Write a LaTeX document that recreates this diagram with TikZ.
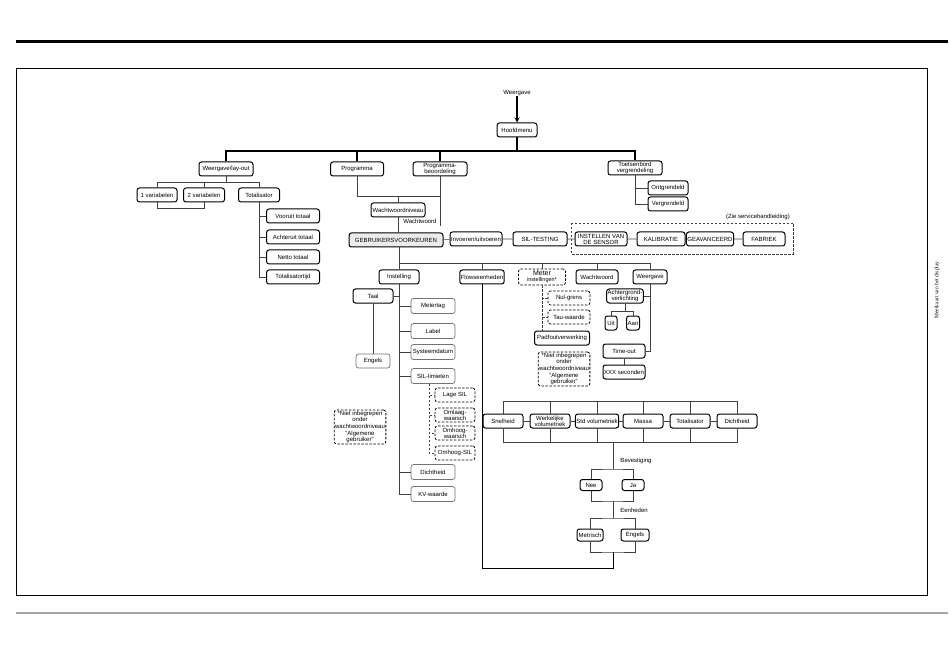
\documentclass[tikz,border=0pt]{standalone}
\usepackage{fontspec}
\setmainfont{Liberation Sans}
\newfontfamily\sideserif{Liberation Serif}
\usetikzlibrary{calc}

\begin{document}
\begin{tikzpicture}[>=stealth, x=1pt, y=-1pt,
    box/.style={draw, rounded corners=2.5pt, line width=1pt, fill=white, align=center,
        inner sep=1pt, minimum height=14pt, font=\fontsize{6}{6}\selectfont},
    dbox/.style={box, dash pattern=on 2.5pt off 1.5pt, line width=.8pt},
    lbox/.style={box, draw=black!55, line width=.7pt},
    lnk/.style={line width=.6pt, black!75},
    dlnk/.style={lnk, dash pattern=on 2.5pt off 1.5pt},
    bus/.style={line width=1.1pt},
    lbl/.style={font=\fontsize{6}{6}\selectfont, inner sep=0pt}]
\useasboundingbox (0,0) rectangle (950,660);
\draw[line width=3pt] (16,42)--(948,42);
\draw[line width=2pt, gray!70] (16,613)--(948,613);
\draw[line width=1pt] (16,69) rectangle (927,595);
\node[rotate=90, font=\sideserif\fontsize{5.5}{5.5}\selectfont] (side) at (937,290) {Meetkaart van het display};

\node[lbl] (start) at (517,93) {Weergave};
\node[box, minimum width=40pt] (hoofd) at (517,130) {Hoofdmenu};
\draw[->, line width=1.3pt] (start)--(hoofd);

\node[box, minimum width=54pt] (wlay) at (226,169) {Weergave/lay-out};
\node[box, minimum width=53pt] (prog) at (357,169) {Programma};
\node[box, minimum width=54pt] (pbeo) at (440,169) {Programma-\\beoordeling};
\node[box, minimum width=54pt] (toets) at (635,168) {Toetsenbord\\vergrendeling};
\coordinate (b1) at (517,151);
\draw[bus] (hoofd)--(b1);
\draw[bus] (wlay.north) |- (b1 -| toets.north)--(toets.north);
\foreach \n in {prog,pbeo}
{
    \draw[bus] (\n.north)--(\n.north |- b1);
}

\node[box, minimum width=40pt] (var1) at (157,195) {1 variabelen};
\node[box, minimum width=41pt] (var2) at (204,195) {2 variabelen};
\node[box, minimum width=41pt] (totl) at (259,195) {Totalisator};
\coordinate (b2) at (226,182);
\draw[lnk] (wlay.south)--(b2);
\draw[lnk] (var1.north) |- (b2 -| totl.north)--(totl.north);
\draw[lnk] (var2.north)--(var2.north |- b2);
\draw[lnk] (var1.south)--++(0,6) -| (var2.south);
\foreach \y/\t/\n in {216/Vooruit totaal/vt, 237/Achteruit totaal/at, 257/Netto totaal/nt, 277/Totalisatortijd/tt}
{
    \node[box, minimum width=53pt] (\n) at (293,\y) {\t};
    \draw[lnk] (totl.south) |- (\n.west);
}

\node[box, minimum width=40pt] (ontg) at (668,188) {Ontgrendeld};
\node[box, minimum width=40pt] (verg) at (668,204) {Vergrendeld};
\draw[lnk] (toets.south) |- (ontg.west);
\draw[lnk] (toets.south) |- (verg.west);

\node[box, minimum width=54pt] (wniv) at (398,210) {Wachtwoordniveau};
\coordinate (b3) at (398,196);
\coordinate (wwend) at (440,226);
\draw[lnk] (prog.south) |- (b3 -| pbeo.south);
\draw[lnk] (wniv.north)--(wniv.north |- b3);
\draw[lnk] (pbeo.south)--(wwend);
\node[lbl] (wwl) at (420,221) {Wachtwoord};

\node[box, minimum width=94pt, fill=gray!15] (gebr) at (396,240) {GEBRUIKERSVOORKEUREN};
\node[box, minimum width=52pt] (inv) at (476,239) {Invoeren/uitvoeren};
\node[box, minimum width=54pt] (silt) at (540,239) {SIL-TESTING};
\node[box, minimum width=52pt] (inst) at (601,239) {INSTELLEN VAN\\DE SENSOR};
\node[box, minimum width=48pt] (kal) at (661,239) {KALIBRATIE};
\node[box, minimum width=44pt] (gav) at (710,239) {GEAVANCEERD};
\node[box, minimum width=42pt] (fab) at (764,239) {FABRIEK};
\draw[lnk] (wniv.south)--(wniv.south |- gebr.north);
\draw[lnk] (gebr)--(inv)--(silt)--(inst)--(kal)--(gav)--(fab);
\draw[dlnk] (571,223) rectangle (793,254);
\node[lbl, anchor=east] (zie) at (790,217) {(Zie servicehandleiding)};

\node[box, minimum width=40pt] (instl) at (399,277) {Instelling};
\node[box, minimum width=41pt] (flow) at (482,277) {Flowseenheden};
\node[dbox, minimum width=47pt, minimum height=16pt] (meter) at (542,277) {{\fontsize{7}{6}\selectfont Meter}\\{\fontsize{5.5}{5.5}\selectfont instellingen*}};
\node[box, minimum width=42pt] (ww) at (597,277) {Wachtwoord};
\node[box, minimum width=34pt] (weer) at (650,277) {Weergave};
\coordinate (b4) at (399,263);
\draw[lnk] (b4) -| (weer.north);
\foreach \n in {flow,meter,ww}
{
    \draw[lnk] (\n.north)--(\n.north |- b4);
}

\node[box, minimum width=40pt] (taal) at (373,296) {Taal};
\node[lbox, minimum width=34pt] (engl) at (373,361) {Engels};
\draw[lnk] (taal.south)--(engl.north);
\foreach \y/\t/\n in {306/Metertag/mtag, 331/Label/lab, 352/Systeemdatum/sdat, 376/SIL-limieten/silm, 472/Dichtheid/dicht, 494/KV-waarde/kv}
{
    \node[lbox, minimum width=44pt, minimum height=15pt] (\n) at (433,\y) {\t};
    \draw[lnk] (\n.west)--(\n.west -| instl.south);
}
\draw[lnk] (gebr.south -| instl.north)--(instl.north);
\draw[lnk] (instl.south)--(instl.south |- kv.west);
\draw[lnk] (taal.east)--(taal.east -| instl.south);
\foreach \y/\t/\n in {395/Lage SIL/lsil, 415/{Omlaag-\\waarsch}/olw, 433/{Omhoog-\\waarsch}/ohw, 453/Omhoog-SIL/ohs}
{
    \node[dbox, minimum width=40pt] (\n) at (455,\y) {\t};
    \draw[dlnk] ([xshift=-4pt]silm.south) |- (\n.west);
}
\node[dbox, font=\fontsize{6}{6.6}\selectfont] (note1) at (360,427) {*Niet inbegrepen\\onder\\wachtwoordniveau\\"Algemene\\gebruiker"};

\node[dbox, minimum width=42pt] (nul) at (569,298) {Nul-grens};
\node[dbox, minimum width=42pt] (tau) at (569,317) {Tau-waarde};
\node[box, minimum width=55pt] (pad) at (562,338) {Padfoutverwerking};
\node[dbox, font=\fontsize{6}{6.6}\selectfont] (note2) at (564,369) {*Niet inbegrepen\\onder\\wachtwoordniveau\\"Algemene\\gebruiker"};
\draw[dlnk] (meter.south) |- (nul.west);
\draw[dlnk] (meter.south) |- (tau.west);
\draw[dlnk] (meter.south)--(meter.south |- pad.north);

\node[box, minimum width=36pt] (acht) at (625,296) {Achtergrond-\\verlichting};
\node[box, minimum width=12pt] (uit) at (611,323) {Uit};
\node[box, minimum width=13pt] (aan) at (633,323) {Aan};
\node[box, minimum width=42pt] (tout) at (624,351) {Time-out};
\node[box, minimum width=42pt] (xxx) at (624,372) {XXX seconden};
\draw[lnk] (weer.south) |- (tout.east);
\draw[lnk] (acht.east)--(acht.east -| weer.south);
\draw[lnk] (acht.south)--++(0,8) coordinate (ua);
\draw[lnk] (uit.north) |- (ua) -| (aan.north);
\draw[lnk] (tout.south)--(xxx.north);

\foreach \x/\t/\n in {503/Snelheid/snel, 550/{Werkelijke\\volumetriek}/wvol, 597/Std volumetriek/svol, 643/Massa/mas, 690/Totalisator/tot2, 737/Dichtheid/dich2}
{
    \node[box, minimum width=40pt] (\n) at (\x,421) {\t};
}
\draw[lnk] (snel)--(wvol)--(svol)--(mas)--(tot2)--(dich2);
\coordinate (ub) at (503,401);
\coordinate (lb) at (503,442);
\draw[lnk] (snel.north) |- (ub -| dich2.north)--(dich2.north);
\draw[lnk] (snel.south) |- (lb -| dich2.south)--(dich2.south);
\foreach \n in {wvol,svol,mas,tot2}
{
    \draw[lnk] (\n.north)--(\n.north |- ub);
    \draw[lnk] (\n.south)--(\n.south |- lb);
}

\coordinate (bv) at (613,469);
\coordinate (nj) at (613,501);
\coordinate (eh) at (613,518);
\coordinate (me) at (613,552);
\coordinate (endp) at (613,568);
\node[box, minimum width=22pt, minimum height=11pt] (nee) at (591,485) {Nee};
\node[box, minimum width=22pt, minimum height=11pt] (ja) at (633,485) {Ja};
\node[box, minimum width=26pt, minimum height=12pt] (metr) at (590,535) {Metrisch};
\node[box, minimum width=28pt, minimum height=12pt] (eng2) at (635,535) {Engels};
\node[lbl] (bevl) at (636,461) {Bevestiging};
\node[lbl] (eenl) at (634,510) {Eenheden};
\draw[lnk] (lb -| bv)--(bv);
\draw[lnk] (nee.north) |- (bv) -| (ja.north);
\draw[lnk] (nee.south) |- (nj) -| (ja.south);
\draw[lnk] (nj)--(eh);
\draw[lnk] (metr.north) |- (eh) -| (eng2.north);
\draw[lnk] (metr.south) |- (me) -| (eng2.south);
\draw[line width=1pt] (flow.south) |- (endp)--(me);

\end{tikzpicture}
\end{document}
